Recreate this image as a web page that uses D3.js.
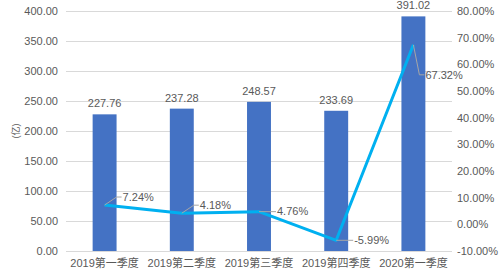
<!DOCTYPE html>
<html>
<head>
<meta charset="utf-8">
<script src="https://cdn.jsdelivr.net/npm/d3@7"></script>
<style>
  body { margin: 0; background: #fff; }
  text { font-family: "Liberation Sans", Arial, "Noto Sans CJK SC", sans-serif; fill: #595959; }
  .grid line { stroke: #d9d9d9; }
  .grid path { display: none; }
</style>
</head>
<body>
<div id="chart"></div>
<script>
// quarters, revenue (亿) and growth rate (%)
const quarters = ["2019第一季度", "2019第二季度", "2019第三季度", "2019第四季度", "2020第一季度"];
const revenue = [227.76, 237.28, 248.57, 233.69, 391.02];
const growth = [7.24, 4.18, 4.76, -5.99, 67.32];
const leftTicks = [0, 50, 100, 150, 200, 250, 300, 350, 400];
const rightTicks = [-10, 0, 10, 20, 30, 40, 50, 60, 70, 80];

var width = 500, height = 275;
var margin = { top: 11, right: 48, bottom: 24, left: 66 };

var svg = d3.select("#chart").append("svg")
    .attr("width", width).attr("height", height);

var x = d3.scaleBand().domain(quarters)
    .range([margin.left, width - margin.right]).paddingInner(0.69).paddingOuter(0.345);
var y = d3.scaleLinear().domain([0, 400]).range([height - margin.bottom, margin.top]);
var y2 = d3.scaleLinear().domain([-10, 80]).range([height - margin.bottom, margin.top]);

// gridlines
svg.append("g").attr("class", "grid")
    .attr("transform", "translate(" + margin.left + ",0)")
    .call(d3.axisLeft(y).tickValues(leftTicks).tickSize(-(width - margin.left - margin.right)).tickFormat(""));

// left axis labels
svg.append("g").selectAll("text").data(leftTicks).enter().append("text")
    .attr("x", margin.left - 8).attr("y", function(d){ return y(d); })
    .attr("dy", "0.35em").attr("text-anchor", "end").attr("font-size", 11)
    .text(function(d){ return d.toFixed(2); });

// right axis labels
svg.append("g").selectAll("text").data(rightTicks).enter().append("text")
    .attr("x", width - margin.right + 5).attr("y", function(d){ return y2(d); })
    .attr("dy", "0.35em").attr("text-anchor", "start").attr("font-size", 11)
    .text(function(d){ return d.toFixed(2) + "%"; });

// axis title
svg.append("text")
    .attr("transform", "translate(19,131) rotate(-90)")
    .attr("text-anchor", "middle").attr("font-size", 9)
    .text("(亿)");

// x labels
svg.append("g").selectAll("text").data(quarters).enter().append("text")
    .attr("x", function(d){ return x(d) + x.bandwidth() / 2; })
    .attr("y", height - 8).attr("text-anchor", "middle").attr("font-size", 11)
    .text(function(d){ return d; });

// bars
svg.append("g").selectAll("rect").data(revenue).enter().append("rect")
    .attr("x", function(d, i){ return x(quarters[i]); })
    .attr("width", x.bandwidth())
    .attr("y", function(d){ return y(d); })
    .attr("height", function(d){ return y(0) - y(d); })
    .attr("fill", "#4472c4");

// bar labels
svg.append("g").selectAll("text").data(revenue).enter().append("text")
    .attr("x", function(d, i){ return x(quarters[i]) + x.bandwidth() / 2; })
    .attr("y", function(d){ return y(d) - 7; })
    .attr("text-anchor", "middle").attr("font-size", 11)
    .text(function(d){ return d.toFixed(2); });

// growth line
var line = d3.line()
    .x(function(d, i){ return x(quarters[i]) + x.bandwidth() / 2; })
    .y(function(d){ return y2(d); });
svg.append("path").datum(growth).attr("d", line)
    .attr("fill", "none").attr("stroke", "#00b0f0").attr("stroke-width", 3)
    .attr("stroke-linejoin", "round");

// leader lines + growth labels (offsets in px)
var leaders = [[12, -8], [12, -8], [12, 0], [12, 0], [6, 30]];
var g = svg.append("g");
growth.forEach(function(d, i){
  var px = x(quarters[i]) + x.bandwidth() / 2, py = y2(d);
  var lx = px + leaders[i][0], ly = py + leaders[i][1];
  g.append("path")
    .attr("d", d3.line()([[px, py], [lx, ly], [lx + 5, ly]]))
    .attr("fill", "none").attr("stroke", "#a6a6a6").attr("stroke-width", 1);
  g.append("text").attr("x", lx + 6).attr("y", ly).attr("dy", "0.35em")
    .attr("font-size", 11).text(d.toFixed(2) + "%");
});
</script>
</body>
</html>
